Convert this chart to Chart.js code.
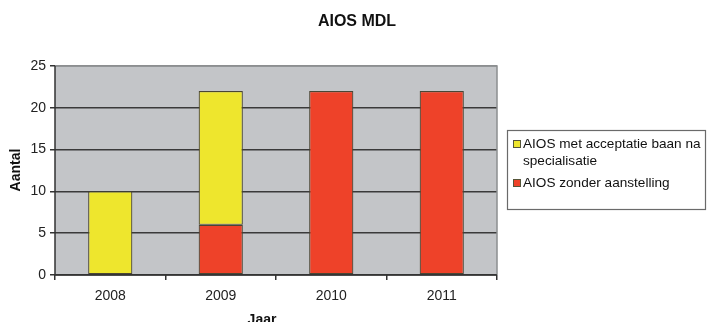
<!DOCTYPE html>
<html>
<head>
<meta charset="utf-8">
<script src="https://cdn.jsdelivr.net/npm/chart.js@4/dist/chart.umd.min.js"></script>
<style>
  html, body { margin: 0; padding: 0; background: #ffffff; }
  #wrap { width: 708px; height: 322px; position: relative; }
</style>
</head>
<body>
<div id="wrap"><canvas id="c" width="708" height="322"></canvas></div>
<script>
// Jaren en aantallen AIOS MDL
const jaren = ['2008', '2009', '2010', '2011'];
const metAcceptatie = [10, 16, null, null];
const zonderAanstelling = [null, 6, 22, 22];
const yTicks = [0, 5, 10, 15, 20, 25];

const FONT = '"Liberation Sans", Arial, sans-serif';
const PLOT_BG = '#c3c5c8';

// Plot area background, border, titles and the boxed legend
const decor = {
  id: 'decor',
  beforeDraw(chart) {
    const { ctx, chartArea: a } = chart;
    ctx.save();
    ctx.fillStyle = PLOT_BG;
    ctx.fillRect(a.left, a.top, a.right - a.left, a.bottom - a.top);
    ctx.restore();
  },
  afterDraw(chart) {
    const { ctx, chartArea: a } = chart;
    ctx.save();
    // plot border (top/right)
    ctx.strokeStyle = '#8c8e90';
    ctx.lineWidth = 1.5;
    ctx.beginPath();
    ctx.moveTo(a.left, a.top);
    ctx.lineTo(a.right, a.top);
    ctx.lineTo(a.right, a.bottom);
    ctx.stroke();
    // axes
    ctx.strokeStyle = '#333333';
    ctx.lineWidth = 1.5;
    ctx.beginPath();
    ctx.moveTo(a.left, a.top);
    ctx.lineTo(a.left, a.bottom);
    ctx.lineTo(a.right, a.bottom);
    ctx.stroke();

    ctx.fillStyle = '#111111';
    ctx.textAlign = 'center';
    ctx.textBaseline = 'middle';
    ctx.font = 'bold 16px ' + FONT;
    ctx.fillText('AIOS MDL', 357, 22);

    ctx.font = 'bold 14px ' + FONT;
    ctx.fillText('Jaar', 262, 320);

    ctx.save();
    ctx.translate(16, 170);
    ctx.rotate(-Math.PI / 2);
    ctx.fillText('Aantal', 0, 0);
    ctx.restore();

    // legend box
    ctx.fillStyle = '#ffffff';
    ctx.fillRect(507, 130, 198, 79);
    ctx.strokeStyle = '#6a6a6a';
    ctx.lineWidth = 1.2;
    ctx.strokeRect(507.5, 130.5, 198, 79);

    const items = chart.data.datasets.slice().reverse();
    const lines = [
      { ds: items[0], text: ['AIOS met acceptatie baan na', 'specialisatie'], y: 144 },
      { ds: items[1], text: ['AIOS zonder aanstelling'], y: 183 }
    ];
    ctx.font = '13.6px ' + FONT;
    ctx.textAlign = 'left';
    lines.forEach(it => {
      ctx.fillStyle = it.ds.backgroundColor;
      ctx.fillRect(513, it.y - 3.5, 7, 7);
      ctx.strokeStyle = '#55553a';
      ctx.lineWidth = 1;
      ctx.strokeRect(513.5, it.y - 3.5, 7, 7);
      ctx.fillStyle = '#111111';
      it.text.forEach((t, i) => ctx.fillText(t, 523, it.y + i * 17));
    });
    ctx.restore();
  }
};

new Chart(document.getElementById('c'), {
  type: 'bar',
  data: {
    labels: jaren,
    datasets: [
      {
        label: 'AIOS zonder aanstelling',
        data: zonderAanstelling,
        backgroundColor: '#ee4229',
        borderColor: '#4a4634',
        borderWidth: 1.2,
        borderSkipped: false,
        barPercentage: 0.4,
        categoryPercentage: 1
      },
      {
        label: 'AIOS met acceptatie baan na specialisatie',
        data: metAcceptatie,
        backgroundColor: '#eee62d',
        borderColor: '#4a4634',
        borderWidth: 1.2,
        borderSkipped: false,
        barPercentage: 0.4,
        categoryPercentage: 1
      }
    ]
  },
  options: {
    responsive: false,
    animation: false,
    layout: { padding: { left: 0, right: 211, top: 66, bottom: 17 } },
    plugins: {
      legend: { display: false },
      title: { display: false },
      tooltip: { enabled: false }
    },
    scales: {
      x: {
        stacked: true,
        afterFit(s) { s.height = 30; },
        grid: {
          offset: true,
          drawOnChartArea: false,
          drawTicks: true,
          tickLength: 5,
          color: '#333333',
          lineWidth: 1.5
        },
        border: { display: false },
        ticks: {
          autoSkip: false,
          maxRotation: 0,
          color: '#222222',
          font: { family: FONT, size: 14 },
          padding: 8
        }
      },
      y: {
        stacked: true,
        min: 0,
        max: 25,
        afterFit(s) { s.width = 55; },
        afterBuildTicks(s) { s.ticks = yTicks.map(v => ({ value: v })); },
        grid: {
          color: ctx => (ctx.tick && ctx.tick.value === 25) ? '#8c8e90' : '#3a3a3a',
          lineWidth: 1.5,
          tickLength: 5,
          tickColor: '#333333'
        },
        border: { display: false },
        ticks: {
          color: '#222222',
          font: { family: FONT, size: 14 },
          padding: 4
        }
      }
    }
  },
  plugins: [decor]
});
</script>
</body>
</html>
